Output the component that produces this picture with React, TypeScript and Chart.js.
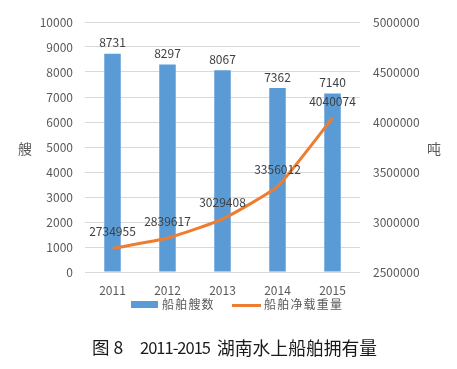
import React, { useEffect, useRef } from "react";
import { Chart, registerables } from "chart.js";

Chart.register(...registerables);

const categories = ["2011", "2012", "2013", "2014", "2015"];
const shipCounts = [8731, 8297, 8067, 7362, 7140];
const netTonnage = [2734955, 2839617, 3029408, 3356012, 4040074];
const seriesNames = ["船舶艘数", "船舶净载重量"];
const leftAxisTitle = "艘";
const rightAxisTitle = "吨";
const captionFigure = "图 8";
const captionYears = "2011-2015";
const captionTitle = "湖南水上船舶拥有量";

const FONT = "'Noto Sans CJK SC', 'Noto Sans', sans-serif";
const BLUE = "#5B9BD5";
const ORANGE = "#ED7D31";
const TEXT = "#595959";
const LABEL = "#404040";

const labelPlugin = {
  id: "valueLabels",
  afterDatasetsDraw(chart: any) {
    const ctx = chart.ctx;
    ctx.save();
    ctx.font = `12px ${FONT}`;
    ctx.fillStyle = LABEL;
    ctx.textAlign = "center";
    const barMeta = chart.getDatasetMeta(0);
    barMeta.data.forEach((el: any, i: number) => {
      ctx.textBaseline = "bottom";
      ctx.fillText(String(shipCounts[i]), el.x, el.y - 5);
    });
    const lineMeta = chart.getDatasetMeta(1);
    lineMeta.data.forEach((el: any, i: number) => {
      ctx.textBaseline = "middle";
      ctx.fillText(String(netTonnage[i]), el.x, el.y - 17);
    });
    ctx.restore();
  },
};

export default function App() {
  const ref = useRef<HTMLCanvasElement | null>(null);
  useEffect(() => {
    if (!ref.current) return;
    const chart = new Chart(ref.current, {
      type: "bar",
      data: {
        labels: categories,
        datasets: [
          {
            type: "bar",
            label: seriesNames[0],
            data: shipCounts,
            backgroundColor: BLUE,
            yAxisID: "y",
            categoryPercentage: 1,
            barPercentage: 0.3,
            order: 2,
          },
          {
            type: "line",
            label: seriesNames[1],
            data: netTonnage,
            borderColor: ORANGE,
            backgroundColor: ORANGE,
            borderWidth: 3,
            pointRadius: 0,
            tension: 0.15,
            yAxisID: "y1",
            order: 1,
          } as any,
        ],
      },
      options: {
        responsive: false,
        animation: false,
        layout: { padding: { top: 22, left: 0, right: 0, bottom: 0 } },
        plugins: {
          legend: { display: false },
          tooltip: { enabled: false },
          title: { display: false },
        },
        scales: {
          x: {
            grid: { display: false, drawTicks: false },
            border: { display: false },
            ticks: { color: TEXT, font: { family: FONT, size: 12 }, padding: 11 },
            afterFit: (s: any) => {
              s.height = 97;
            },
          },
          y: {
            position: "left",
            min: 0,
            max: 10000,
            ticks: {
              stepSize: 1000,
              color: TEXT,
              font: { family: FONT, size: 12 },
              padding: 12,
              callback: (v: any) => String(v),
            },
            grid: { color: "#D9D9D9", drawTicks: false, lineWidth: 1 },
            border: { display: false },
            afterFit: (s: any) => {
              s.width = 85;
            },
          },
          y1: {
            position: "right",
            min: 2500000,
            max: 5000000,
            ticks: {
              stepSize: 500000,
              color: TEXT,
              font: { family: FONT, size: 12 },
              padding: 13,
              callback: (v: any) => String(v),
            },
            grid: { display: false, drawTicks: false },
            border: { display: false },
            afterFit: (s: any) => {
              s.width = 97;
            },
          },
        },
      } as any,
      plugins: [labelPlugin],
    });
    return () => chart.destroy();
  }, []);

  const abs = (o: any) => ({ position: "absolute" as const, whiteSpace: "nowrap" as const, ...o });

  return (
    <div style={{ position: "absolute", left: 0, top: 0, width: 457, height: 369, background: "#fff", fontFamily: FONT }}>
      <canvas ref={ref} width={457} height={369} style={{ position: "absolute", left: 0, top: 0, width: 457, height: 369 }} />
      <span style={abs({ left: 18, top: 138, fontSize: 14, color: TEXT, lineHeight: "20px" })}>{leftAxisTitle}</span>
      <span style={abs({ left: 427, top: 138, fontSize: 14, color: TEXT, lineHeight: "20px" })}>{rightAxisTitle}</span>

      <span style={abs({ left: 131, top: 301, width: 27, height: 7, background: BLUE })} />
      <span style={abs({ left: 162, top: 295, fontSize: 12, letterSpacing: 1.2, lineHeight: "18px", color: TEXT })}>{seriesNames[0]}</span>
      <span style={abs({ left: 232, top: 303.5, width: 29, height: 3, background: ORANGE })} />
      <span style={abs({ left: 264, top: 295, fontSize: 12, letterSpacing: 1.2, lineHeight: "18px", color: TEXT })}>{seriesNames[1]}</span>

      <span style={abs({ left: 92, top: 335, fontSize: 17.5, lineHeight: "24px", color: "#1a1a1a" })}>{captionFigure}</span>
      <span style={abs({ left: 140, top: 335, fontSize: 16.5, letterSpacing: -1, lineHeight: "24px", color: "#1a1a1a" })}>{captionYears}</span>
      <span style={abs({ left: 217, top: 335, fontSize: 17.8, lineHeight: "24px", color: "#1a1a1a" })}>{captionTitle}</span>
    </div>
  );
}
